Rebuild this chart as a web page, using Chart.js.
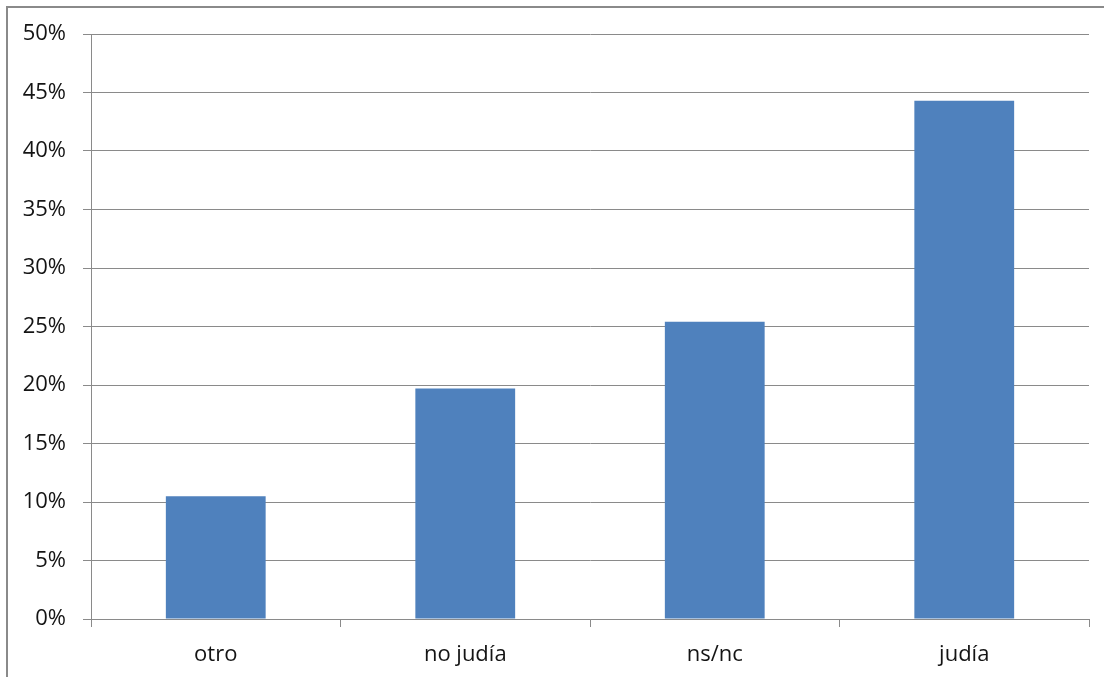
<!DOCTYPE html>
<html>
<head>
<meta charset="utf-8">
<script src="https://cdn.jsdelivr.net/npm/chart.js@4/dist/chart.umd.min.js"></script>
<style>
  html, body { margin: 0; padding: 0; background: #fff; }
  #wrap { position: relative; width: 1104px; height: 677px; overflow: hidden; }
  #frame { position: absolute; left: 6px; top: 6px; width: 1200px; height: 800px;
           border: 2px solid #8a8a8a; box-sizing: border-box; }
  canvas { position: absolute; left: 0; top: 0; }
</style>
</head>
<body>
<div id="wrap">
  <div id="frame"></div>
  <canvas id="c" width="1104" height="677"></canvas>
</div>
<script>
const categories = ['otro', 'no judía', 'ns/nc', 'judía'];
const shares = [10.5, 19.7, 25.4, 44.3];
const yTicks = [0, 5, 10, 15, 20, 25, 30, 35, 40, 45, 50];

const FONT = { family: '"Open Sans", "DejaVu Sans", sans-serif', size: 22 };

new Chart(document.getElementById('c'), {
  type: 'bar',
  data: {
    labels: categories,
    datasets: [{
      data: shares,
      backgroundColor: '#4f81bd',
      borderWidth: 0,
      barPercentage: 0.4,
      categoryPercentage: 1.0
    }]
  },
  options: {
    responsive: false,
    animation: false,
    devicePixelRatio: 1,
    layout: { padding: { top: 34, right: 15, left: 0, bottom: 0 } },
    plugins: { legend: { display: false }, tooltip: { enabled: false } },
    scales: {
      x: {
        offset: true,
        grid: { offset: true, drawOnChartArea: false, drawTicks: true, tickLength: 8, color: '#8a8a8a' },
        border: { display: true, color: '#8a8a8a', width: 1 },
        ticks: { font: FONT, color: '#141414', padding: 15, maxRotation: 0 },
        afterFit: s => { s.height = 58; }
      },
      y: {
        min: 0, max: 50,
        afterBuildTicks: s => { s.ticks = yTicks.map(v => ({ value: v })); },
        grid: { color: '#8a8a8a', tickLength: 8, drawTicks: true },
        border: { display: true, color: '#8a8a8a', width: 1 },
        ticks: { font: FONT, color: '#141414', padding: 17, callback: v => v + '%' },
        afterFit: s => { s.width = 91; }
      }
    }
  }
});
</script>
</body>
</html>
